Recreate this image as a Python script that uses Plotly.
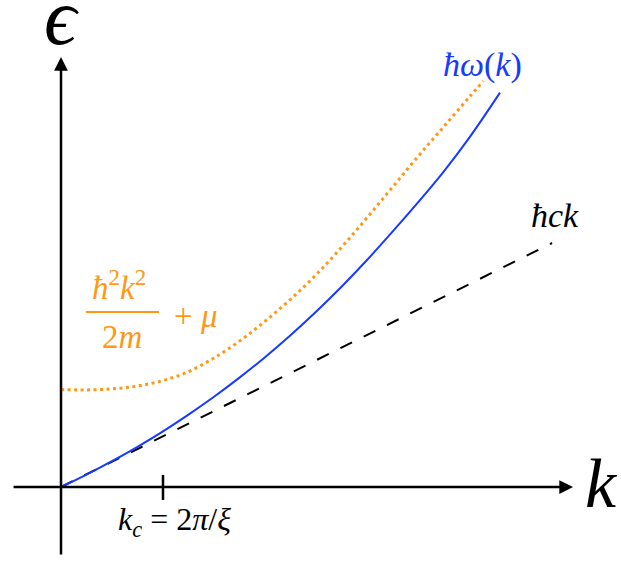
import plotly.graph_objects as go

# values (k in units of k_c, energy in the same units)
k_blue = [0.0, 0.25, 0.5, 0.75, 1.0, 1.25, 1.5, 1.75, 2.0, 2.25, 2.5, 2.75,
          3.0, 3.25, 3.5, 3.75, 4.0, 4.304]
e_blue = [0.0, 0.122, 0.253, 0.394, 0.546, 0.710, 0.885, 1.072, 1.273, 1.488,
          1.718, 1.963, 2.225, 2.503, 2.790, 3.090, 3.420, 3.866]

k_orange = [0.0, 0.25, 0.5, 0.75, 1.0, 1.25, 1.5, 1.75, 2.0, 2.25, 2.5, 2.75,
            3.0, 3.25, 3.5, 3.75, 4.0, 4.14]
e_orange = [0.955, 0.952, 0.962, 0.990, 1.044, 1.131, 1.265, 1.430, 1.625, 1.840,
            2.080, 2.350, 2.640, 2.940, 3.240, 3.530, 3.820, 3.980]

k_sound = [0.0, 4.814]
e_sound = [0.0, 2.392]

k_c = 1.0

BLUE = 'rgb(22,58,255)'
ORANGE = 'rgb(255,152,20)'
SERIF = 'Liberation Serif'

fig = go.Figure()

# free particle + mu (dotted orange)
fig.add_trace(go.Scatter(
    x=k_orange, y=e_orange, mode='lines',
    line=dict(color=ORANGE, width=3, dash='3px,3.5px', shape='spline'),
    hoverinfo='skip', showlegend=False,
))
# phonon line hbar c k (dashed black)
fig.add_trace(go.Scatter(
    x=k_sound, y=e_sound, mode='lines',
    line=dict(color='black', width=2, dash='13px,13px'),
    hoverinfo='skip', showlegend=False,
))
# Bogoliubov dispersion (solid blue)
fig.add_trace(go.Scatter(
    x=k_blue, y=e_blue, mode='lines',
    line=dict(color=BLUE, width=2, shape='spline'),
    hoverinfo='skip', showlegend=False,
))

annotations = []
# axes drawn as arrows
for tip, start in [((5.02, 0), (-0.48, 0)), ((0, 4.216), (0, -0.676))]:
    annotations.append(dict(
        x=tip[0], y=tip[1], ax=start[0], ay=start[1], xref='x', yref='y',
        axref='x', ayref='y', text='', showarrow=True, arrowhead=2,
        arrowsize=1.1, arrowwidth=2.5, arrowcolor='black', standoff=0,
    ))

def label(x, y, text, size, color='black'):
    annotations.append(dict(
        x=x, y=y, xref='x', yref='y', text=text, showarrow=False,
        font=dict(family=SERIF, size=size, color=color),
    ))

label(0.0, 4.61, '<i>ϵ</i>', 80)
label(5.30, 0.03, '<i>k</i>', 70)
label(4.137, 4.137, '<i>ħω</i>(<i>k</i>)', 34, BLUE)
label(4.843, 2.66, '<i>ħck</i>', 34)
label(0.57, 1.98, '<i>ħ</i><sup>2</sup><i>k</i><sup>2</sup>', 33, ORANGE)
label(0.60, 1.47, '2<i>m</i>', 33, ORANGE)
label(1.314, 1.68, '+ <i>μ</i>', 33, ORANGE)
label(1.108, -0.343, '<i>k</i><sub><i>c</i></sub> = 2<i>π</i>/<i>ξ</i>', 32)

fig.update_layout(
    width=621, height=561,
    margin=dict(l=0, r=0, t=0, b=0),
    paper_bgcolor='white', plot_bgcolor='white',
    xaxis=dict(range=[-0.598, 5.490], visible=False, fixedrange=True),
    yaxis=dict(range=[-0.7255, 4.7745], visible=False, fixedrange=True),
    annotations=annotations,
    shapes=[
        # k_c tick
        dict(type='line', xref='x', yref='y', x0=k_c, x1=k_c, y0=-0.127, y1=0.118,
             line=dict(color='black', width=2.5)),
        # fraction bar
        dict(type='line', xref='x', yref='y', x0=0.245, x1=0.961, y0=1.716, y1=1.716,
             line=dict(color=ORANGE, width=2)),
    ],
)

fig.write_html("out.html", config={'displayModeBar': False},
               post_script="document.body.style.margin='0';")
